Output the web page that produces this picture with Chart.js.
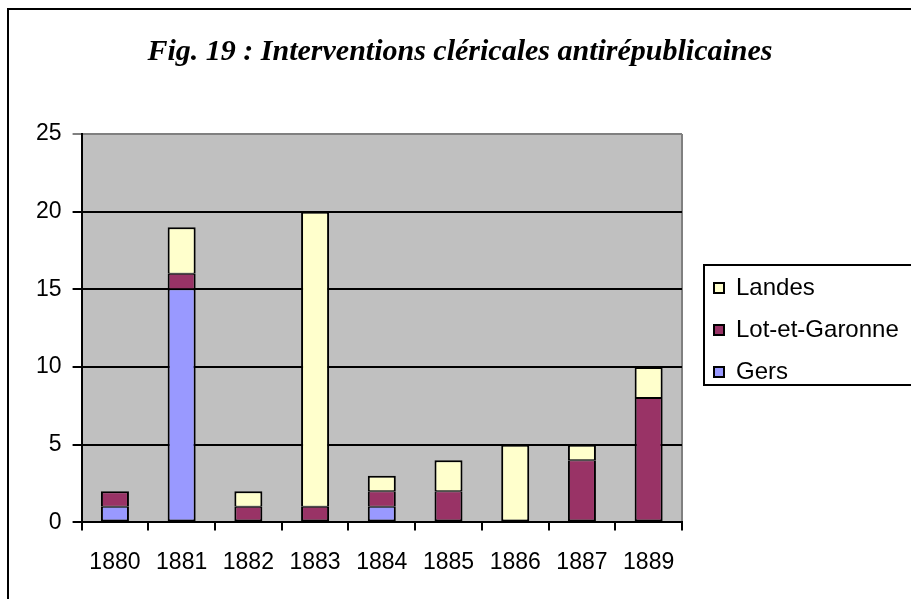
<!DOCTYPE html>
<html>
<head>
<meta charset="utf-8">
<script src="https://cdn.jsdelivr.net/npm/chart.js@4/dist/chart.umd.min.js"></script>
<style>
  html, body { margin: 0; padding: 0; background: #ffffff; }
  #wrap { width: 911px; height: 599px; position: relative; }
</style>
</head>
<body>
<div id="wrap"><canvas id="c" width="911" height="599"></canvas></div>
<script>
const categories = ['1880', '1881', '1882', '1883', '1884', '1885', '1886', '1887', '1889'];
const gers = [1, 15, 0, 0, 1, 0, 0, 0, 0];
const lotEtGaronne = [1, 1, 1, 1, 1, 2, 0, 4, 8];
const landes = [0, 3, 1, 19, 1, 2, 5, 1, 2];
const yTicks = [0, 5, 10, 15, 20, 25];
const titleText = 'Fig. 19 : Interventions cléricales antirépublicaines';

const sansFont = "Arial, 'Liberation Sans', sans-serif";

const LEGEND_WIDTH = 213;
const LEGEND_SHIFT_X = 14;
const LEGEND_SHIFT_Y = 46;

const stackSeries = [gers, lotEtGaronne, landes];
function segBorder(ctx) {
  const i = ctx.datasetIndex, j = ctx.dataIndex;
  let above = false, below = false;
  stackSeries.forEach((s, k) => {
    if (s[j] > 0 && k > i) above = true;
    if (s[j] > 0 && k < i) below = true;
  });
  return { left: 2, right: 2, top: above ? 1 : 2, bottom: below ? 1 : 2 };
}

const frame = {
  id: 'frame',
  beforeLayout(chart) {
    const lg = chart.legend;
    if (lg && !lg._patched) {
      const f = lg.fit;
      lg.fit = function () { f.call(this); this.width = LEGEND_WIDTH; };
      lg._patched = true;
    }
  },
  afterLayout(chart) {
    const lg = chart.legend;
    if (!lg) return;
    lg.left += LEGEND_SHIFT_X;
    lg.right = chart.width + 40;
    lg.top += LEGEND_SHIFT_Y;
  },
  beforeDraw(chart) {
    const ctx = chart.ctx;
    const a = chart.chartArea;
    ctx.save();
    ctx.strokeStyle = '#000';
    ctx.lineWidth = 2;
    ctx.beginPath();
    ctx.moveTo(8, 620);
    ctx.lineTo(8, 9);
    ctx.lineTo(920, 9);
    ctx.stroke();
    ctx.fillStyle = '#C0C0C0';
    ctx.fillRect(a.left, a.top, a.right - a.left, a.bottom - a.top);
    ctx.strokeStyle = '#808080';
    ctx.lineWidth = 2;
    ctx.beginPath();
    ctx.moveTo(a.right, a.top);
    ctx.lineTo(a.right, a.bottom);
    ctx.stroke();
    ctx.restore();
  },
  afterDraw(chart) {
    const lg = chart.legend;
    if (!lg || !lg.legendHitBoxes || !lg.legendHitBoxes.length) return;
    const hb = lg.legendHitBoxes;
    const ctx = chart.ctx;
    const first = hb[0], last = hb[hb.length - 1];
    const left = first.left - 10;
    const top = first.top + first.height / 2 - 23;
    const bottom = last.top + last.height / 2 + 13;
    ctx.save();
    ctx.strokeStyle = '#000';
    ctx.lineWidth = 2;
    ctx.beginPath();
    ctx.rect(left, top, 940 - left, bottom - top);
    ctx.stroke();
    ctx.restore();
  }
};

new Chart(document.getElementById('c'), {
  type: 'bar',
  data: {
    labels: categories,
    datasets: [
      { label: 'Gers', data: gers, backgroundColor: '#9999FF' },
      { label: 'Lot-et-Garonne', data: lotEtGaronne, backgroundColor: '#993366' },
      { label: 'Landes', data: landes, backgroundColor: '#FFFFCC' }
    ].map(d => Object.assign(d, {
      borderColor: '#000000',
      borderWidth: segBorder,
      borderSkipped: false,
      barPercentage: 0.42,
      categoryPercentage: 1.0
    }))
  },
  options: {
    responsive: false,
    animation: false,
    devicePixelRatio: 1,
    layout: { padding: { left: 25, right: 16, top: 20, bottom: 5 } },
    plugins: {
      title: {
        display: true,
        text: titleText,
        color: '#000',
        font: { family: "'Times New Roman', 'Liberation Serif', serif", size: 30, weight: 'bold', style: 'italic' },
        padding: { top: 14, bottom: 64 }
      },
      legend: {
        position: 'right',
        reverse: true,
        labels: {
          color: '#000',
          font: { family: sansFont, size: 24 },
          boxWidth: 10,
          boxHeight: 10,
          padding: 18,
          useBorderRadius: false,
          generateLabels(chart) {
            const items = Chart.defaults.plugins.legend.labels.generateLabels(chart);
            items.forEach(it => { it.lineWidth = 2; });
            return items;
          }
        }
      },
      tooltip: { enabled: false }
    },
    scales: {
      x: {
        stacked: true,
        offset: true,
        grid: {
          offset: true,
          drawOnChartArea: false,
          drawTicks: true,
          tickLength: 8,
          color: '#000',
          lineWidth: 2
        },
        border: { display: true, color: '#000', width: 2 },
        ticks: { color: '#000', font: { family: sansFont, size: 23 }, padding: 18, maxRotation: 0 }
      },
      y: {
        stacked: true,
        min: 0,
        max: 25,
        afterBuildTicks(scale) { scale.ticks = yTicks.map(v => ({ value: v })); },
        grid: {
          color: ctx => (ctx.tick && ctx.tick.value === 25 ? '#808080' : '#000'),
          lineWidth: 2,
          tickLength: 9,
          drawTicks: true
        },
        border: { display: true, color: '#000', width: 2 },
        ticks: { color: '#000', font: { family: sansFont, size: 23 }, padding: 11 }
      }
    }
  },
  plugins: [frame]
});
</script>
</body>
</html>
